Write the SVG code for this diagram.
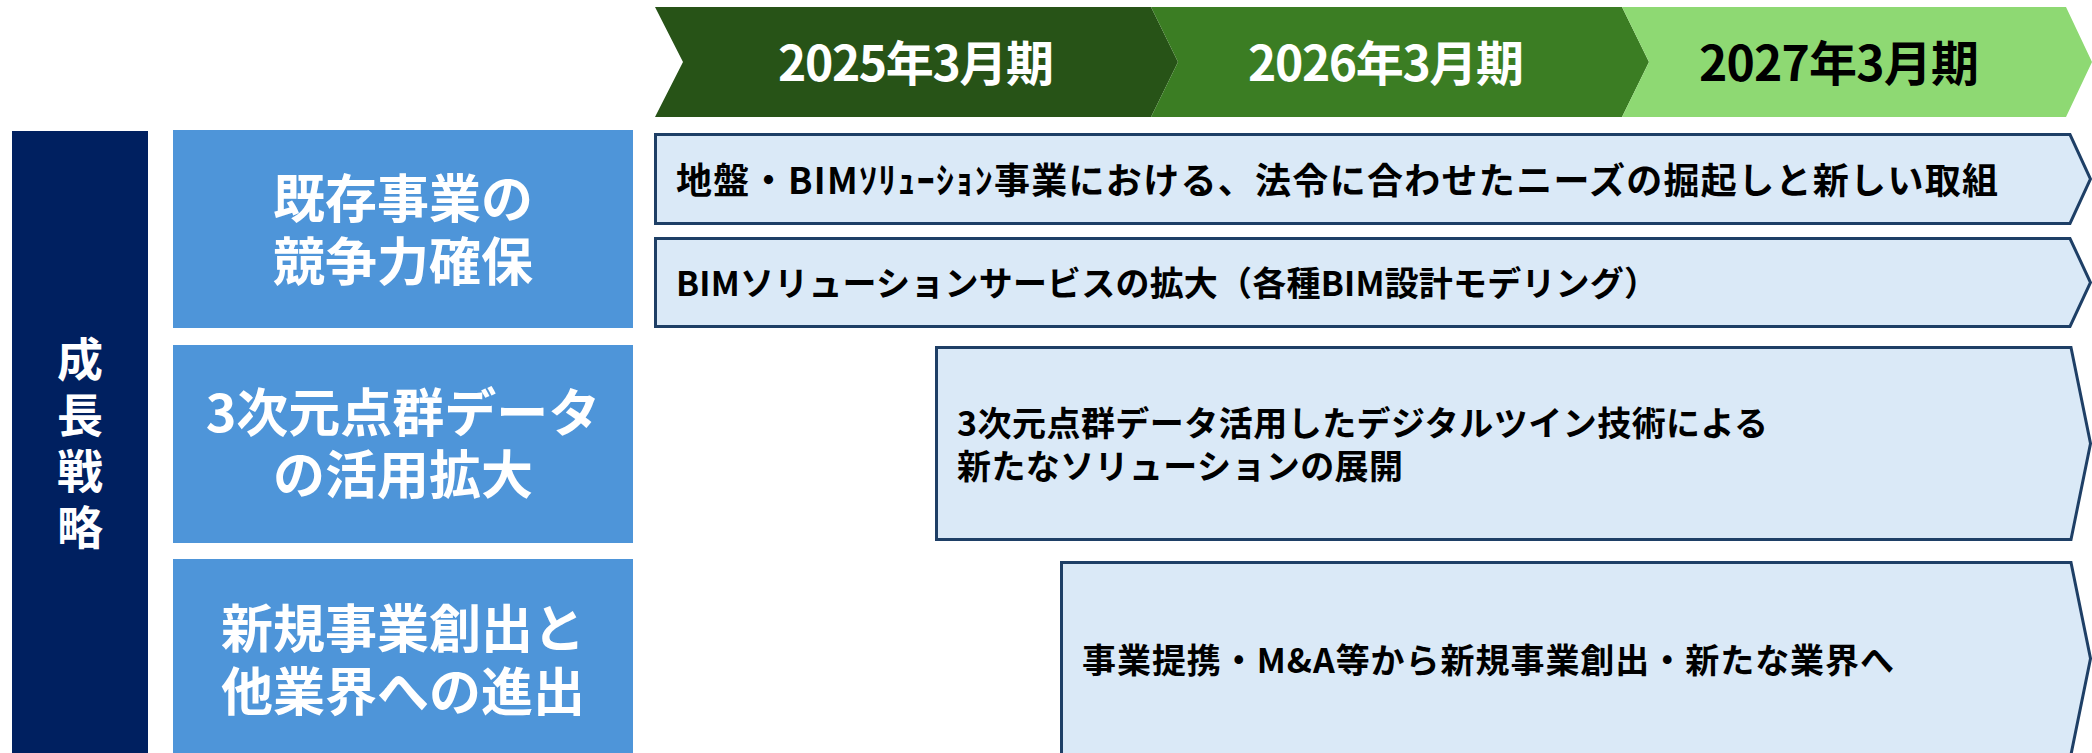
<svg xmlns="http://www.w3.org/2000/svg" width="2092" height="753" viewBox="0 0 2092 753">
<style>
text{font-family:"Noto Sans CJK JP","Noto Sans",sans-serif;font-weight:700;dominant-baseline:central}
.yr{font-size:48px;text-anchor:middle}
.side{font-size:46px;fill:#fff;text-anchor:middle}
.cat{fill:#4E95D9}
.catt{font-size:52px;fill:#fff;text-anchor:middle}
.bar{fill:#DAE9F7;stroke:#1E3F66;stroke-width:3;stroke-linejoin:miter}
.bt{fill:#000;font-size:34px}
</style>
<rect width="2092" height="753" fill="#fff"/>
<g id="timeline">
  <g id="y2025">
    <polygon points="655,7 1151,7 1178,62 1151,117 655,117 683,62" fill="#275317"/>
    <text class="yr" x="916" y="60" fill="#fff" textLength="276">2025年3月期</text>
  </g>
  <g id="y2026">
    <polygon points="1151,7 1622,7 1649,62 1622,117 1151,117 1178,62" fill="#3B7D23"/>
    <text class="yr" x="1386" y="60" fill="#fff" textLength="276">2026年3月期</text>
  </g>
  <g id="y2027">
    <polygon points="1622,7 2066,7 2092,62 2066,117 1622,117 1649,62" fill="#8ED973"/>
    <text class="yr" x="1839" y="60" fill="#000" textLength="280">2027年3月期</text>
  </g>
</g>
<g id="growth-strategy">
  <rect x="12" y="131" width="136" height="630" fill="#002060"/>
  <text class="side"><tspan x="80" y="356">成</tspan><tspan x="80" y="412">長</tspan><tspan x="80" y="468">戦</tspan><tspan x="80" y="524">略</tspan></text>
</g>
<g id="cat-existing">
  <rect class="cat" x="173" y="130" width="460" height="198"/>
  <text class="catt"><tspan x="403" y="195">既存事業の</tspan><tspan x="403" y="258">競争力確保</tspan></text>
</g>
<g id="cat-pointcloud">
  <rect class="cat" x="173" y="345" width="460" height="198"/>
  <text class="catt"><tspan x="403" y="409">3次元点群データ</tspan><tspan x="403" y="471">の活用拡大</tspan></text>
</g>
<g id="cat-new">
  <rect class="cat" x="173" y="559" width="460" height="200"/>
  <text class="catt"><tspan x="403" y="625">新規事業創出と</tspan><tspan x="403" y="688">他業界への進出</tspan></text>
</g>
<g id="bar-ground-bim">
  <path class="bar" d="M655.5,134.5 H2070 L2090.5,179 L2070,223.5 H655.5 Z"/>
  <text class="bt" x="676" y="178" style="font-size:36px" textLength="1322">地盤・BIMｿﾘｭｰｼｮﾝ事業における、法令に合わせたニーズの掘起しと新しい取組</text>
</g>
<g id="bar-bim-service">
  <path class="bar" d="M655.5,238.5 H2070 L2090.5,282.5 L2070,326.5 H655.5 Z"/>
  <text class="bt" x="676" y="281" textLength="982">BIMソリューションサービスの拡大（各種BIM設計モデリング）</text>
</g>
<g id="bar-digital-twin">
  <path class="bar" d="M936.5,347.5 H2071 L2090.5,443.5 L2071,539.5 H936.5 Z"/>
  <text class="bt"><tspan x="957" y="421" textLength="811">3次元点群データ活用したデジタルツイン技術による</tspan><tspan x="957" y="464" textLength="446">新たなソリューションの展開</tspan></text>
</g>
<g id="bar-new-business">
  <path class="bar" d="M1061.5,562.5 H2071 L2090.5,658.5 L2071,754.5 H1061.5 Z"/>
  <text class="bt" x="1082" y="658" textLength="812">事業提携・M&amp;A等から新規事業創出・新たな業界へ</text>
</g>
<g id="connectors"/>
</svg>
